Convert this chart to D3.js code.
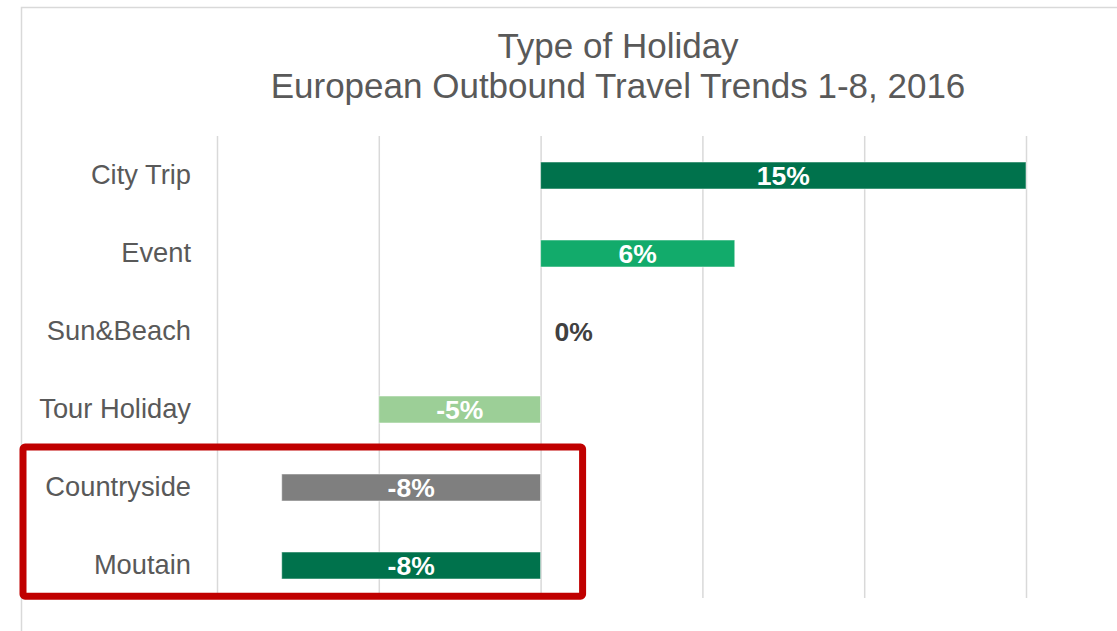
<!DOCTYPE html>
<html>
<head>
<meta charset="utf-8">
<script src="https://cdn.jsdelivr.net/npm/d3@7"></script>
<style>
	body { margin: 0; background: #fff; }
	svg { display: block; font-family: "Liberation Sans", Arial, sans-serif; }
</style>
</head>
<body>
<div id="chart"></div>
<script>
// data
const categories = ['City Trip', 'Event', 'Sun&Beach', 'Tour Holiday', 'Countryside', 'Moutain'];
const values = [15, 6, 0, -5, -8, -8];
const barColors = ['#00724C', '#12AB6B', '#00724C', '#9CCF97', '#7F7F7F', '#00724C'];
const gridTicks = [-10, -5, 0, 5, 10, 15];
const titleLines = ['Type of Holiday', 'European Outbound Travel Trends 1-8, 2016'];
const highlighted = ['Countryside', 'Moutain'];

const width = 1117;
const height = 631;
const margin = {t: 136, r: 91, b: 33, l: 217};

const data = categories.map((c, i) => ({cat: c, value: values[i], color: barColors[i]}));

const scaleX = d3.scaleLinear().domain([-10, 15]).range([margin.l, width - margin.r]);
const scaleY = d3.scaleBand()
	.domain(categories)
	.range([136.5, 604.5])
	.paddingInner(0.654)
	.paddingOuter(0.327);

const svg = d3.select('#chart').append('svg')
	.attr('width', width)
	.attr('height', height);

// chart area border (runs off the right and bottom)
svg.append('rect')
	.attr('x', 21.5)
	.attr('y', 7.5)
	.attr('width', width + 20)
	.attr('height', height + 20)
	.attr('fill', 'none')
	.attr('stroke', '#D9D9D9')
	.attr('stroke-width', 1.5);

// title
svg.append('text')
	.attr('text-anchor', 'middle')
	.attr('fill', '#595959')
	.style('font-size', '35px')
	.selectAll('tspan')
	.data(titleLines)
	.join('tspan')
	.attr('x', 618)
	.attr('y', (d, i) => 58 + i * 40)
	.text(d => d);

// vertical gridlines
const axisX = d3.axisBottom(scaleX)
	.tickValues(gridTicks)
	.tickSize(-(height - margin.b - margin.t))
	.tickFormat('');

const gx = svg.append('g')
	.attr('class', 'axis-x')
	.attr('transform', `translate(0,${height - margin.b})`)
	.call(axisX);
gx.select('.domain').remove();
gx.selectAll('line').attr('stroke', '#D9D9D9').attr('stroke-width', 1.5);

// category labels
const axisY = d3.axisLeft(scaleY).tickSize(0).tickPadding(26);
const gy = svg.append('g')
	.attr('class', 'axis-y')
	.attr('transform', `translate(${margin.l},0)`)
	.call(axisY);
gy.select('.domain').remove();
gy.selectAll('text')
	.attr('fill', '#595959')
	.style('font-size', '27.3px')
	.style('font-family', '"Liberation Sans", Arial, sans-serif');

// bars
svg.append('g')
	.selectAll('rect')
	.data(data)
	.join('rect')
	.attr('x', d => scaleX(Math.min(0, d.value)))
	.attr('y', d => scaleY(d.cat))
	.attr('width', d => Math.abs(scaleX(d.value) - scaleX(0)))
	.attr('height', scaleY.bandwidth())
	.attr('fill', d => d.color)
	.attr('stroke', d => d.value === 0 ? 'none' : '#ffffff')
	.attr('stroke-opacity', 0.5)
	.attr('stroke-width', 1);

// value labels
svg.append('g')
	.selectAll('text')
	.data(data)
	.join('text')
	.attr('x', d => d.value === 0 ? scaleX(0) + 14 : (scaleX(0) + scaleX(d.value)) / 2)
	.attr('y', d => scaleY(d.cat) + scaleY.bandwidth() / 2)
	.attr('dy', '0.36em')
	.attr('text-anchor', d => d.value === 0 ? 'start' : 'middle')
	.attr('fill', d => d.value === 0 ? '#404040' : '#ffffff')
	.style('font-size', '26.5px')
	.style('font-weight', 'bold')
	.text(d => d.value + '%');

// red highlight box around the last two rows
const step = scaleY.step();
const boxTop = scaleY(highlighted[0]) - step * 0.345;
const boxBottom = scaleY(highlighted[1]) + scaleY.bandwidth() + step * 0.22;
svg.append('rect')
	.attr('x', 23)
	.attr('y', boxTop)
	.attr('width', scaleX(0) + 42 - 23)
	.attr('height', boxBottom - boxTop)
	.attr('rx', 2)
	.attr('fill', 'none')
	.attr('stroke', '#C00000')
	.attr('stroke-width', 7);
</script>
</body>
</html>
